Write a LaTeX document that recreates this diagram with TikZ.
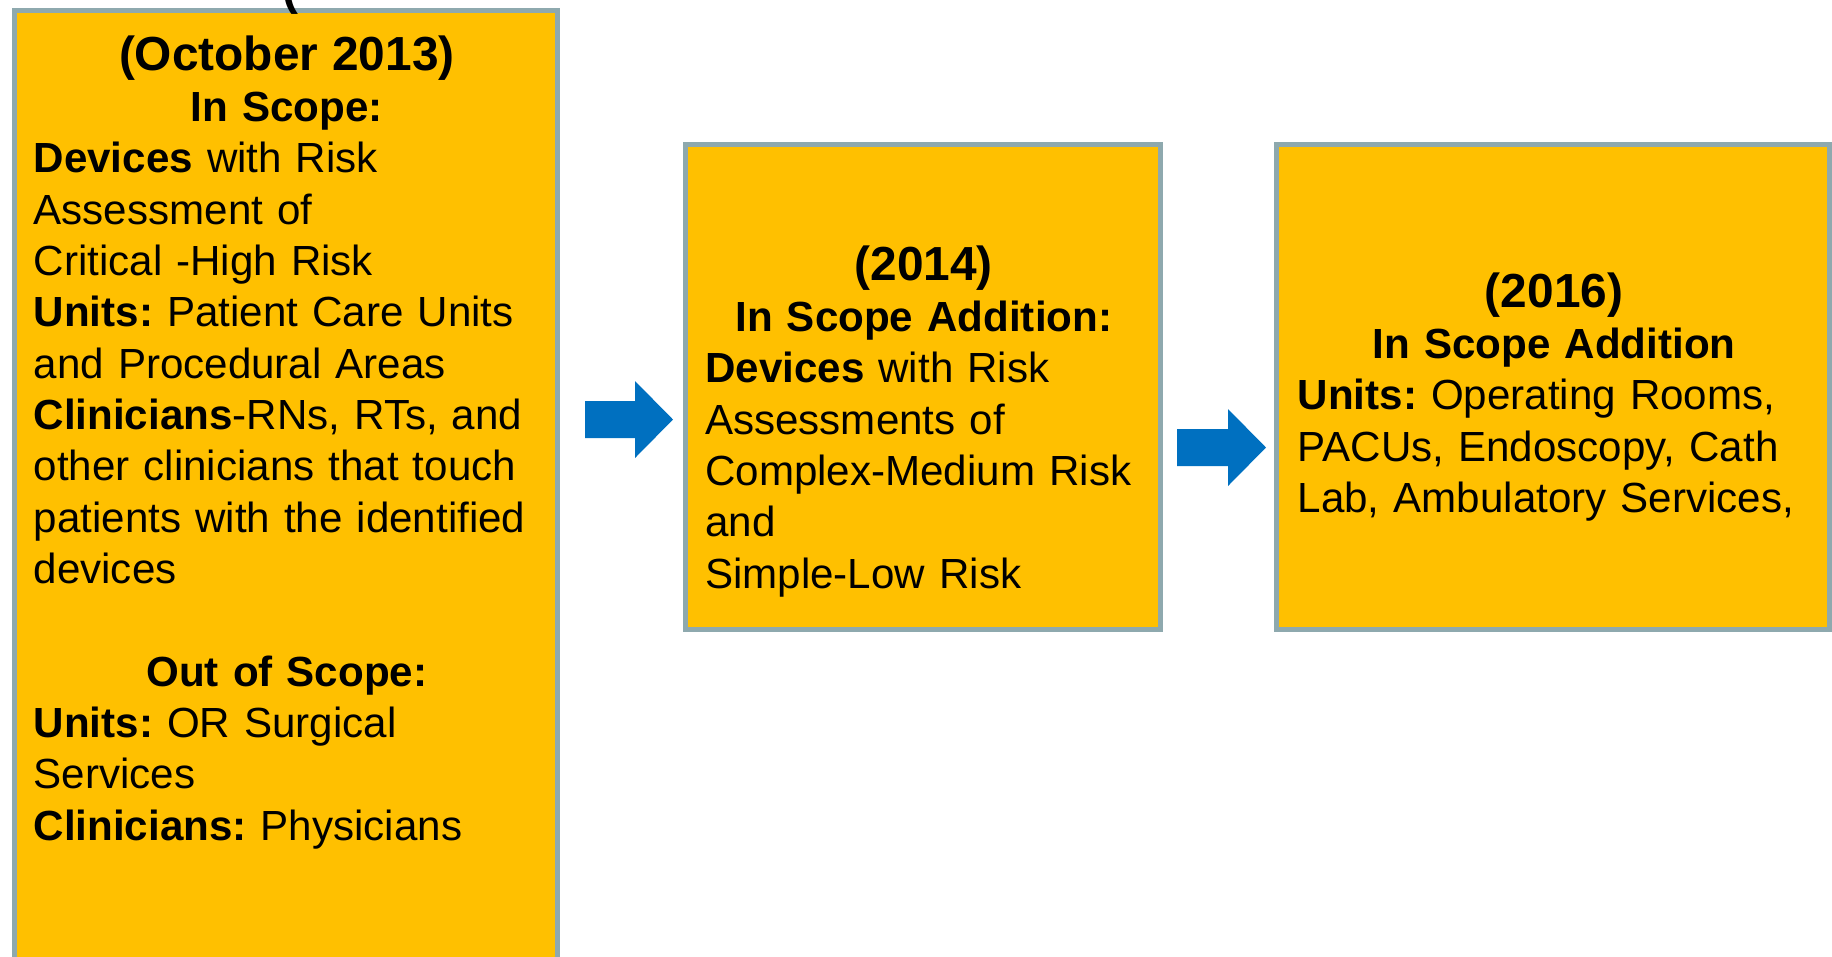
\documentclass[tikz,border=0pt]{standalone}
\usepackage{fontspec}
\setmainfont{Liberation Sans}
\definecolor{gold}{HTML}{FFC000}
\definecolor{edgegray}{HTML}{8EA9AE}
\definecolor{arrowblue}{HTML}{0070C0}
\newcommand{\titlefont}{\fontsize{13.6pt}{14.6pt}\selectfont\bfseries}
\newcommand{\ctr}[1]{\makebox[\linewidth]{#1}}
\frenchspacing
\begin{document}
\begin{tikzpicture}[x=0.01cm,y=-0.01cm,
  panel/.style={draw=edgegray,fill=gold,line width=0.05cm,rectangle,inner sep=0pt},
  bodytext/.style={anchor=base west,inner sep=0pt,align=left,
    font=\fontsize{11.98pt}{14.6pt}\selectfont},
  blockarrow/.style={fill=arrowblue,draw=none}]
\useasboundingbox (0,0) rectangle (1832,956);
% panels
\node[panel,minimum width=5.43cm,minimum height=9.795cm] (b1) at (286,500.25) {};
\node[panel,minimum width=4.75cm,minimum height=4.845cm] (b2) at (923,387.25) {};
\node[panel,minimum width=5.525cm,minimum height=4.85cm] (b3) at (1553.25,387) {};
% cut-off glyph at the top
\node[anchor=base west,inner sep=0pt,font=\titlefont] (frag) at (282,4) {(};
% texts
\node[bodytext,text width=5.06cm] (t1) at (33,70) {%
\ctr{\titlefont (October 2013)}\\
\ctr{\bfseries In Scope:}\\
\mbox{\textbf{Devices} with Risk}\\
\mbox{Assessment of}\\
\mbox{Critical -High Risk}\\
\mbox{\textbf{Units:} Patient Care Units}\\
\mbox{and Procedural Areas}\\
\mbox{\textbf{Clinicians}-RNs, RTs, and}\\
\mbox{other clinicians that touch}\\
\mbox{patients with the identified}\\
\mbox{devices}\\
\mbox{}\\
\ctr{\bfseries Out of Scope:}\\
\mbox{\textbf{Units:} OR Surgical}\\
\mbox{Services}\\
\mbox{\textbf{Clinicians:} Physicians}};
\node[bodytext,text width=4.37cm] (t2) at (704.5,280) {%
\ctr{\titlefont (2014)}\\
\ctr{\bfseries In Scope Addition:}\\
\mbox{\textbf{Devices} with Risk}\\
\mbox{Assessments of}\\
\mbox{Complex-Medium Risk}\\
\mbox{and}\\
\mbox{Simple-Low Risk}};
\node[bodytext,text width=5.125cm] (t3) at (1297,307) {%
\ctr{\titlefont (2016)}\\
\ctr{\bfseries In Scope Addition}\\
\mbox{\textbf{Units:} Operating Rooms,}\\
\mbox{PACUs, Endoscopy, Cath}\\
\mbox{Lab, Ambulatory Services,}};
% block arrows
\fill[blockarrow] (585,401) -- (635,401) -- (635,381) -- (673,419.5) -- (635,458) -- (635,438) -- (585,438) -- cycle;
\fill[blockarrow] (1177,429) -- (1228,429) -- (1228,409) -- (1266,447.5) -- (1228,486) -- (1228,466) -- (1177,466) -- cycle;
\end{tikzpicture}
\end{document}
